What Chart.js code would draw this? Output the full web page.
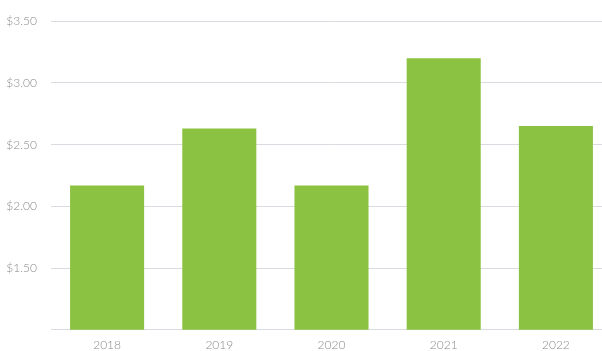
<!DOCTYPE html>
<html>
<head>
<meta charset="utf-8">
<script src="https://cdn.jsdelivr.net/npm/chart.js@4.4.1/dist/chart.umd.min.js"></script>
<style>
    html, body { margin: 0; padding: 0; background: #fff; overflow: hidden; }
    #wrap { width: 612px; height: 351px; }
</style>
</head>
<body>
<div id="wrap"><canvas id="priceChart" width="612" height="351"></canvas></div>
<script>
const years = ['2018', '2019', '2020', '2021', '2022'];
const prices = [2.17, 2.63, 2.17, 3.2, 2.65];
const yMin = 1.0;
const yMax = 3.5;
const yStep = 0.5;

const ctx = document.getElementById('priceChart').getContext('2d');

new Chart(ctx, {
    type: 'bar',
    data: {
        labels: years,
        datasets: [{
            data: prices,
            backgroundColor: '#8bc241',
            borderWidth: 0,
            barPercentage: 0.66,
            categoryPercentage: 1
        }]
    },
    options: {
        responsive: false,
        animation: false,
        layout: {
            padding: { top: 10, left: 0, right: 0, bottom: 0 }
        },
        plugins: {
            legend: { display: false },
            tooltip: { enabled: false }
        },
        scales: {
            x: {
                grid: { display: false },
                border: { display: false },
                ticks: {
                    color: '#8a8a8a',
                    font: { family: 'Lato', size: 12, weight: 300 },
                    padding: 0
                },
                afterFit: function (scale) {
                    scale.height = 20;
                }
            },
            y: {
                min: yMin,
                max: yMax,
                border: { display: false },
                grid: {
                    color: '#d8dce0',
                    lineWidth: 1,
                    drawTicks: false
                },
                ticks: {
                    stepSize: yStep,
                    color: '#8a8a8a',
                    font: { family: 'Lato', size: 12, weight: 300 },
                    padding: 14,
                    callback: function (value) {
                        // the baseline is drawn without a label
                        if (value === yMin) return '';
                        return '$' + Number(value).toFixed(2);
                    }
                },
                afterFit: function (scale) {
                    scale.width = 51;
                }
            }
        }
    }
});
</script>
</body>
</html>
